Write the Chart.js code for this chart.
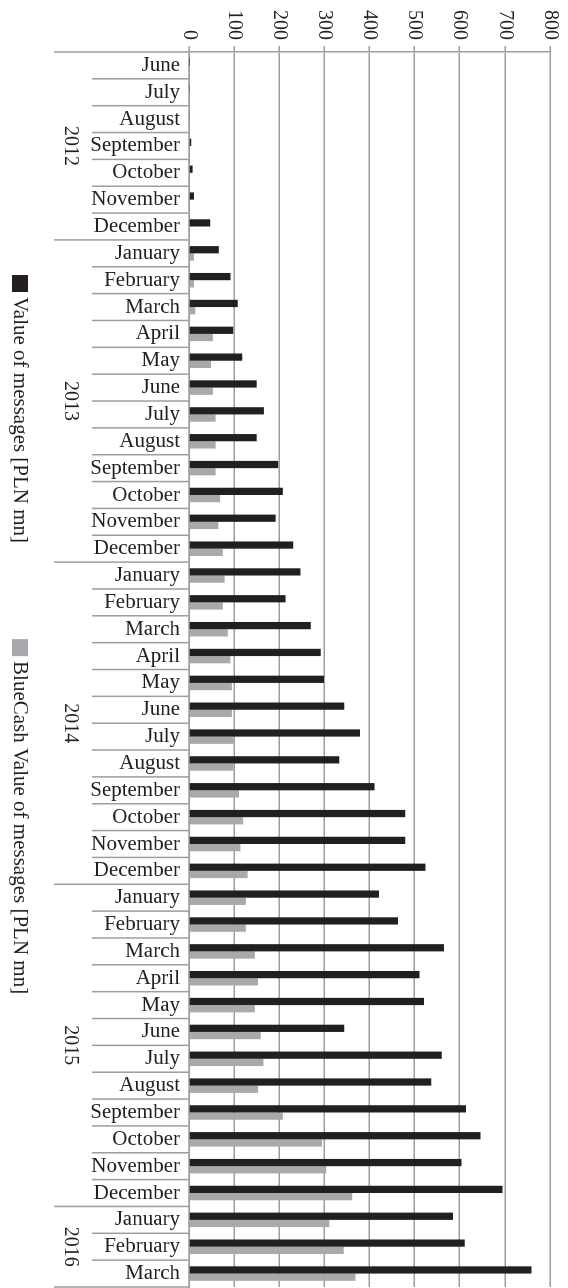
<!DOCTYPE html>
<html>
<head>
<meta charset="utf-8">
<script src="https://cdn.jsdelivr.net/npm/chart.js@4/dist/chart.umd.min.js"></script>
<style>
  html, body { margin: 0; padding: 0; background: #fff; overflow: hidden; }
  /* the chart is drawn lying on its side, then turned a quarter clockwise */
  #wrap {
    position: absolute; left: 0; top: 0;
    width: 1288px; height: 568px;
    transform-origin: 0 0;
    transform: translate(568px, 0) rotate(90deg);
  }
</style>
</head>
<body>
<div id="wrap"><canvas id="myChart" width="1288" height="568"></canvas></div>
<script>
// Categories (one per month, June 2012 - March 2016)
const months = [
  "June", "July", "August", "September", "October", "November", "December",
  "January", "February", "March", "April", "May", "June", "July", "August", "September", "October", "November", "December",
  "January", "February", "March", "April", "May", "June", "July", "August", "September", "October", "November", "December",
  "January", "February", "March", "April", "May", "June", "July", "August", "September", "October", "November", "December",
  "January", "February", "March"
];
// year groups under the month labels
const yearLabels = ["2012", "2013", "2014", "2015", "2016"];
const yearStarts = [0, 7, 19, 31, 43];

// Series values [PLN mn]
const valueOfMessages = [
  0.5, 1, 2, 5, 8, 11, 47,
  66, 92, 108, 98, 118, 150, 166, 150, 198, 208, 192, 231,
  247, 214, 270, 292, 299, 344, 379, 333, 411, 479, 479, 524,
  421, 463, 565, 511, 521, 344, 560, 537, 614, 646, 604, 695,
  585, 611, 759
];
const blueCashValue = [
  0, 0, 0, 0, 0, 0, 0,
  11, 11, 14, 53, 49, 53, 59, 59, 59, 69, 65, 75,
  79, 75, 86, 92, 95, 95, 99, 99, 111, 120, 114, 130,
  126, 126, 146, 153, 146, 159, 165, 153, 208, 295, 304, 362,
  311, 343, 369
];
const valueTicks = [0, 100, 200, 300, 400, 500, 600, 700, 800];

const textColor = "#231f20";
const gridColor = "#9d9d9d";
const serif = '"Liberation Serif", "Times New Roman", serif';

Chart.defaults.font.family = serif;
Chart.defaults.color = textColor;

// month separators, year labels and the legend
const decor = {
  id: "decor",
  afterDraw(chart) {
    const ctx = chart.ctx;
    const a = chart.chartArea;
    const x = chart.scales.x;
    ctx.save();
    ctx.strokeStyle = gridColor;
    ctx.lineWidth = 1.5;
    for (let i = 0; i <= months.length; i++) {
      const px = x.getPixelForValue(i - 0.5);
      const yearEdge = yearStarts.includes(i) || i === months.length;
      ctx.beginPath();
      ctx.moveTo(px, a.bottom);
      ctx.lineTo(px, a.bottom + (yearEdge ? 135 : 97));
      ctx.stroke();
    }
    ctx.fillStyle = textColor;
    ctx.font = "20px " + serif;
    ctx.textAlign = "center";
    ctx.textBaseline = "middle";
    yearLabels.forEach((yr, k) => {
      const first = yearStarts[k];
      const last = k + 1 < yearStarts.length ? yearStarts[k + 1] - 1 : months.length - 1;
      const cx = (x.getPixelForValue(first - 0.5) + x.getPixelForValue(last + 0.5)) / 2;
      ctx.fillText(yr, cx, a.bottom + 119);
    });
    // legend
    ctx.font = "21px " + serif;
    ctx.textAlign = "left";
    let lx = 275;
    chart.data.datasets.forEach(ds => {
      ctx.fillStyle = ds.backgroundColor;
      ctx.fillRect(lx, 540, 17, 16);
      ctx.fillStyle = textColor;
      ctx.fillText(ds.label, lx + 22, 548);
      lx += 22 + ctx.measureText(ds.label).width + 96;
    });
    ctx.restore();
  }
};

const ctx = document.getElementById("myChart").getContext("2d");
const chart = new Chart(ctx, {
  type: "bar",
  data: {
    labels: months,
    datasets: [
      {
        label: "Value of messages [PLN mn]",
        data: valueOfMessages,
        backgroundColor: "#231f20",
        borderWidth: 0,
        categoryPercentage: 0.54,
        barPercentage: 1
      },
      {
        label: "BlueCash Value of messages [PLN mn]",
        data: blueCashValue,
        backgroundColor: "#a7a9ac",
        borderWidth: 0,
        categoryPercentage: 0.54,
        barPercentage: 1
      }
    ]
  },
  options: {
    responsive: false,
    devicePixelRatio: 1,
    animation: false,
    layout: { padding: { top: 15, right: 1, bottom: 0, left: 0 } },
    plugins: {
      legend: { display: false },
      tooltip: { enabled: false }
    },
    scales: {
      x: {
        grid: { display: false, drawTicks: false },
        border: { display: true, color: gridColor, width: 1.5 },
        ticks: {
          autoSkip: false,
          minRotation: 90,
          maxRotation: 90,
          padding: 9,
          font: { size: 21 },
          color: textColor
        },
        afterFit(scale) {
          scale.height = 189;
          scale.paddingLeft = 0;
          scale.paddingRight = 0;
        }
      },
      y: {
        min: 0,
        max: 800,
        afterBuildTicks(scale) { scale.ticks = valueTicks.map(v => ({ value: v })); },
        grid: { color: gridColor, lineWidth: 1.5, tickLength: 6 },
        border: { display: true, color: gridColor, width: 1.5 },
        ticks: { padding: 6, font: { size: 20 }, color: textColor },
        afterFit(scale) { scale.width = 52; }
      }
    }
  },
  plugins: [decor]
});
</script>
</body>
</html>
